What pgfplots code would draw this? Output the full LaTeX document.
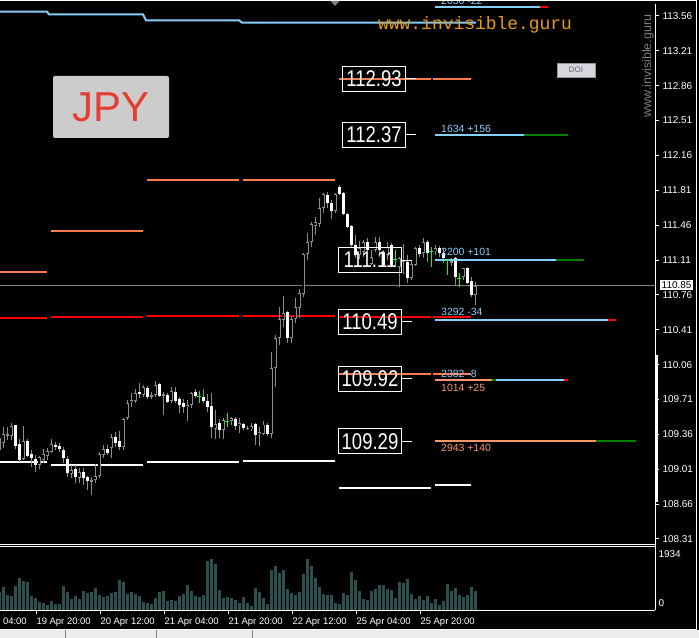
\documentclass[border=0pt]{standalone}
\usepackage{fontspec}
\setmainfont{Liberation Sans}
\newfontfamily\monofont{Liberation Mono}
\usepackage{graphicx}
\usepackage{pgfplots}
\usepackage{pgfplotstable}
\pgfplotsset{compat=1.18}
\definecolor{wickgrey}{RGB}{140,140,140}
\definecolor{dojigreen}{RGB}{0,255,0}
\definecolor{lblue}{RGB}{135,206,250}
\definecolor{lsalmon}{RGB}{250,150,110}
\definecolor{coralc}{RGB}{255,120,80}
\definecolor{dgreen}{RGB}{0,128,0}
\definecolor{volc}{RGB}{47,79,79}
\definecolor{pricegrey}{RGB}{128,132,140}
\definecolor{jpygrey}{RGB}{204,204,204}
\definecolor{jpyred}{RGB}{230,60,50}
\definecolor{webor}{RGB}{232,155,20}
\definecolor{tabgrey}{RGB}{236,236,236}

% hourly candles, i = bar index
\pgfplotstableread{
i o h l c
-1 109.203 109.337 109.186 109.320
0 109.276 109.437 109.219 109.360
1 109.343 109.430 109.303 109.360
2 109.343 109.477 109.303 109.444
5 109.109 109.444 109.102 109.296
9 109.052 109.143 109.009 109.129
10 109.102 109.209 109.069 109.159
11 109.143 109.219 109.102 109.193
12 109.186 109.310 109.169 109.260
17 108.958 109.052 108.918 109.002
19 108.918 109.019 108.868 108.985
22 108.891 108.935 108.751 108.901
23 108.901 109.059 108.868 108.942
24 108.942 109.186 108.918 109.163
25 109.153 109.253 109.119 109.209
27 109.219 109.363 109.119 109.337
30 109.229 109.527 109.203 109.511
31 109.521 109.705 109.504 109.678
32 109.681 109.778 109.638 109.705
33 109.698 109.812 109.671 109.772
35 109.755 109.855 109.738 109.839
37 109.745 109.788 109.711 109.752
38 109.755 109.896 109.738 109.855
40 109.752 109.788 109.554 109.765
42 109.698 109.839 109.671 109.799
46 109.631 109.705 109.497 109.655
47 109.655 109.788 109.621 109.772
53 109.414 109.604 109.310 109.464
55 109.404 109.521 109.313 109.504
57 109.494 109.537 109.454 109.527
59 109.454 109.521 109.370 109.477
61 109.413 109.443 109.403 109.426
62 109.410 109.476 109.396 109.446
64 109.359 109.436 109.245 109.386
65 109.369 109.493 109.353 109.460
67 109.363 110.183 109.319 110.029
68 110.022 110.357 109.838 110.323
69 110.330 110.641 110.256 110.514
70 110.507 110.748 110.440 110.574
72 110.330 110.541 110.273 110.514
73 110.514 110.725 110.480 110.635
74 110.624 110.819 110.534 110.775
75 110.775 111.183 110.742 111.170
76 111.170 111.378 111.110 111.294
77 111.294 111.495 111.244 111.471
78 111.454 111.538 111.361 111.488
79 111.478 111.729 111.444 111.629
80 111.629 111.779 111.578 111.769
83 111.605 111.779 111.578 111.772
89 111.160 111.300 111.120 111.230
90 111.193 111.311 111.143 111.294
92 111.076 111.210 111.060 111.143
93 111.210 111.344 111.193 111.294
96 111.160 111.294 111.110 111.244
99 111.043 111.143 110.842 111.126
100 111.093 111.277 110.976 111.110
102 110.926 111.110 110.909 111.070
103 111.060 111.244 111.050 111.227
105 111.183 111.327 111.126 111.294
108 111.204 111.260 111.160 111.227
112 111.080 111.130 111.050 111.100
115 110.942 111.036 110.909 111.026
118 110.758 110.892 110.658 110.849
}\bull

\pgfplotstableread{
i o h l c
3 109.454 109.454 109.219 109.243
4 109.263 109.310 109.086 109.102
6 109.293 109.310 109.136 109.146
7 109.159 109.203 109.035 109.119
8 109.112 109.153 108.985 109.052
13 109.253 109.286 109.203 109.229
14 109.246 109.276 109.186 109.209
15 109.203 109.229 109.069 109.119
16 109.109 109.143 108.935 108.968
18 109.009 109.052 108.875 108.928
20 108.979 109.019 108.851 108.918
21 108.928 108.942 108.801 108.895
26 109.219 109.253 109.153 109.176
28 109.337 109.387 109.236 109.276
29 109.293 109.397 109.203 109.236
34 109.785 109.872 109.721 109.772
36 109.822 109.845 109.711 109.731
39 109.862 109.872 109.738 109.748
41 109.755 109.778 109.671 109.688
43 109.788 109.839 109.671 109.698
44 109.715 109.738 109.578 109.655
45 109.678 109.721 109.578 109.638
48 109.788 109.815 109.721 109.748
50 109.731 109.812 109.671 109.698
51 109.695 109.765 109.588 109.631
52 109.645 109.772 109.327 109.430
54 109.470 109.511 109.327 109.404
58 109.514 109.537 109.404 109.447
60 109.460 109.470 109.403 109.420
63 109.460 109.476 109.252 109.353
66 109.453 109.470 109.343 109.359
71 110.584 110.598 110.273 110.330
81 111.762 111.796 111.629 111.685
82 111.679 111.712 111.521 111.605
84 111.846 111.863 111.762 111.772
85 111.789 111.796 111.562 111.572
86 111.568 111.578 111.428 111.444
87 111.451 111.461 111.244 111.260
88 111.260 111.361 111.126 111.160
91 111.294 111.327 111.193 111.210
94 111.294 111.337 111.143 111.210
95 111.193 111.210 111.043 111.060
97 111.260 111.277 111.043 111.060
101 111.093 111.160 110.875 110.926
104 111.227 111.260 111.143 111.170
106 111.287 111.311 111.093 111.177
109 111.227 111.250 111.143 111.183
110 111.183 111.227 111.076 111.126
113 111.126 111.143 110.859 110.942
116 111.033 111.043 110.869 110.882
117 110.902 110.942 110.742 110.758
}\bear

\pgfplotstableread{
i o h l c
49 109.742 109.795 109.671 109.742
56 109.487 109.578 109.430 109.487
98 111.120 111.210 111.043 111.120
107 111.193 111.244 111.043 111.193
111 111.110 111.126 110.959 111.110
114 110.926 110.976 110.842 110.926
}\doji

\pgfplotstableread{
i v
-1 634
0 810
1 528
2 493
3 845
4 1126
5 1021
6 986
7 493
8 422
9 282
10 246
11 176
12 317
13 211
14 211
15 845
16 634
17 387
18 493
19 387
20 669
21 598
22 634
23 774
24 528
25 458
26 493
27 598
28 634
29 1056
30 986
31 563
32 634
33 563
34 493
35 282
36 246
37 211
38 422
39 634
40 669
41 317
42 352
43 317
44 493
45 563
46 880
47 669
48 493
49 458
50 528
51 1725
52 1795
53 1619
54 704
55 422
56 458
57 422
58 352
59 246
60 458
61 246
62 141
63 774
64 634
65 422
66 211
67 1408
68 1549
69 1302
70 1408
71 739
72 598
73 528
74 634
75 1267
76 1795
77 1549
78 1126
79 810
80 563
81 528
82 528
83 246
84 211
85 598
86 528
87 1338
88 1056
89 669
90 387
91 352
92 669
93 739
94 880
95 880
96 739
97 704
98 422
99 986
100 950
101 1091
102 563
103 387
104 493
105 352
106 493
107 246
108 387
109 176
110 317
111 915
112 669
113 774
114 528
115 458
116 528
117 810
118 669
}\vol

% volume pane sits below the price pane in the same axis:
% base level 107.5956 (pane bottom), 1 volume unit = 0.00028514 price units
\def\vbase{107.5956}
\def\vk{0.00028514}

\begin{document}
\begin{tikzpicture}[x=1bp,y=1bp]
\fill[black] (0,0) rectangle (699,638);
\useasboundingbox (0,0) rectangle (699,638);

% tab bar at the bottom
\fill[tabgrey] (0,0) rectangle (699,7.5);
\draw[white, line width=1bp] (0,8) -- (696,8);
\foreach \xx in {65,156,252} \draw[gray] (\xx,0) -- (\xx,7.5);

\begin{axis}[
  at={(0,636.5)}, anchor=north west,
  scale only axis, width=655bp, height=606bp,
  xmin=-0.75, xmax=163, ymin=107.5956, ymax=113.68,
  axis x line*=bottom, axis y line*=right,
  axis line style={white, line width=1bp},
  ytick pos=right, xtick pos=bottom, tick align=outside, major tick length=4bp,
  tick style={white, line width=1bp},
  ytick={108.31,108.66,109.01,109.36,109.71,110.06,110.41,110.76,111.11,111.46,111.81,112.16,112.51,112.86,113.21,113.56},
  yticklabels={108.31,108.66,109.01,109.36,109.71,110.06,110.41,110.76,111.11,111.46,111.81,112.16,112.51,112.86,113.21,113.56},
  extra y ticks={107.661,108.158}, extra y tick labels={0,1934},
  extra y tick style={major tick length=0pt},
  yticklabel style={white, font=\fontsize{10}{10}\selectfont, anchor=west},
  xtick={8.25,24.25,40.25,56.25,72.25,88.25,104.25},
  xticklabels={19 Apr 20:00,20 Apr 12:00,21 Apr 04:00,21 Apr 20:00,22 Apr 12:00,25 Apr 04:00,25 Apr 20:00},
  xticklabel style={white, font=\fontsize{9.5}{10}\selectfont, anchor=north west, xshift=-3bp},
  unbounded coords=jump, clip=false,
]
% volume
\addplot[draw=none, error bars/.cd, y dir=both, y explicit, error mark=none, error bar style={draw=volc, line width=3bp}]
  table[x=i, y expr={\vbase+\thisrow{v}*\vk/2}, y error expr={\thisrow{v}*\vk/2}] {\vol};

% daily levels
\addplot[coralc, line width=1.8bp] coordinates {(-0.75,110.99) (11,110.99) (11.5,nan) (12,111.40) (35,111.40) (35.5,nan) (36,111.91) (59,111.91) (59.5,nan) (60,111.91) (83,111.91) (83.5,nan) (84,112.93) (107,112.93) (107.2,nan) (107.5,112.93) (117,112.93) (117.5,nan) (84,109.966) (107,109.966) (107.2,nan) (107.5,109.966) (117,109.966)};
\addplot[red, line width=1.8bp] coordinates {(-0.75,110.53) (11,110.53) (11.5,nan) (12,110.54) (35,110.54) (35.5,nan) (36,110.55) (59,110.55) (59.5,nan) (60,110.545) (83,110.545) (83.5,nan) (84,110.535) (107,110.535) (107.2,nan) (107.5,110.535) (117,110.535)};
\addplot[white, line width=1.8bp] coordinates {(-0.75,109.08) (11,109.08) (11.5,nan) (12,109.05) (35,109.05) (35.5,nan) (36,109.08) (59,109.08) (59.5,nan) (60,109.09) (83,109.09) (83.5,nan) (84,108.82) (107,108.82) (107.5,nan) (108,108.85) (117,108.85)};
% stepped line at the top
\addplot[lblue, line width=2bp] coordinates {(-0.75,113.603) (11,113.603) (11.5,113.577) (35,113.577) (35.75,113.517) (59,113.517) (59.75,113.493) (118.25,113.493)};
% current price
\addplot[pricegrey, line width=1bp] coordinates {(-0.75,110.85) (163,110.85)};

% candles: bull
\addplot[draw=none, error bars/.cd, y dir=both, y explicit, error mark=none, error bar style={draw=wickgrey, line width=1bp}]
  table[x=i, y expr={(\thisrow{h}+\thisrow{l})/2}, y error expr={(\thisrow{h}-\thisrow{l})/2}] {\bull};
\addplot[draw=none, error bars/.cd, y dir=both, y explicit, error mark=none, error bar style={draw=wickgrey, line width=3bp}]
  table[x=i, y expr={(\thisrow{o}+\thisrow{c})/2}, y error expr={max((\thisrow{c}-\thisrow{o})/2,0.006)}] {\bull};
\addplot[draw=none, error bars/.cd, y dir=both, y explicit, error mark=none, error bar style={draw=black, line width=1.2bp}]
  table[x=i, y expr={(\thisrow{o}+\thisrow{c})/2}, y error expr={max((\thisrow{c}-\thisrow{o})/2-0.01,0)}] {\bull};
% candles: bear
\addplot[draw=none, error bars/.cd, y dir=both, y explicit, error mark=none, error bar style={draw=wickgrey, line width=1bp}]
  table[x=i, y expr={(\thisrow{h}+\thisrow{l})/2}, y error expr={(\thisrow{h}-\thisrow{l})/2}] {\bear};
\addplot[draw=none, error bars/.cd, y dir=both, y explicit, error mark=none, error bar style={draw=white, line width=3bp}]
  table[x=i, y expr={(\thisrow{o}+\thisrow{c})/2}, y error expr={max((\thisrow{o}-\thisrow{c})/2,0.006)}] {\bear};
% candles: doji
\addplot[draw=none, error bars/.cd, y dir=both, y explicit, error mark=none, error bar style={draw=dojigreen, line width=1bp}]
  table[x=i, y expr={(\thisrow{h}+\thisrow{l})/2}, y error expr={(\thisrow{h}-\thisrow{l})/2}] {\doji};
\addplot[only marks, mark=-, mark size=2bp, mark options={draw=dojigreen, line width=1bp}] table[x=i, y=o] {\doji};

% order levels on the right
\addplot[lblue, line width=2bp] coordinates {(108,113.647) (134.25,113.647)};
\addplot[red, line width=2bp] coordinates {(134.25,113.647) (136.25,113.647)};
\addplot[lblue, line width=2bp] coordinates {(108,112.37) (130.25,112.37)};
\addplot[dgreen, line width=2bp] coordinates {(130.25,112.37) (141.25,112.37)};
\addplot[lblue, line width=2bp] coordinates {(108,111.115) (138.25,111.115)};
\addplot[dgreen, line width=2bp] coordinates {(138.25,111.115) (145.25,111.115)};
\addplot[lblue, line width=2bp] coordinates {(108,110.511) (151.25,110.511)};
\addplot[red, line width=2bp] coordinates {(151.25,110.511) (153.25,110.511)};
\addplot[lsalmon, line width=2bp] coordinates {(108,109.902) (122.25,109.902)};
\addplot[dgreen, line width=2bp] coordinates {(122.25,109.902) (123.25,109.902)};
\addplot[lblue, line width=2bp] coordinates {(123.25,109.902) (140.25,109.902)};
\addplot[red, line width=2bp] coordinates {(140.25,109.902) (141.25,109.902)};
\addplot[lsalmon, line width=2bp] coordinates {(108,109.296) (148.25,109.296)};
\addplot[dgreen, line width=2bp] coordinates {(148.25,109.296) (158.25,109.296)};

\tikzset{lbl/.style={anchor=base west, inner sep=0pt, font=\fontsize{10.5}{11}\selectfont},
  lvl/.style={draw=white, line width=1bp, text=white, minimum width=63bp, minimum height=25bp, inner sep=0pt, font=\fontsize{19}{19}\selectfont}}
\node[lbl, text=lblue, yshift=3bp] at (axis cs:109.5,113.647) {2036 -22};
\node[lbl, text=lblue, yshift=2.5bp] at (axis cs:109.5,112.37) {1634 +156};
\node[lbl, text=lblue, yshift=4.5bp] at (axis cs:109.5,111.115) {2200 +101};
\node[lbl, text=lblue, yshift=3.7bp] at (axis cs:109.5,110.511) {3292 -34};
\node[lbl, text=lblue, yshift=2.8bp] at (axis cs:109.5,109.902) {2382 -8};
\node[lbl, text=lsalmon, yshift=-11bp] at (axis cs:109.5,109.902) {1014 +25};
\node[lbl, text=lsalmon, yshift=-11bp] at (axis cs:109.5,109.296) {2943 +140};

\node[lvl] at (axis cs:92.75,112.93) {\scalebox{0.98}[1.2]{112.93}};
\node[lvl] at (axis cs:92.75,112.37) {\scalebox{0.98}[1.2]{112.37}};
\node[lvl] at (axis cs:91.75,111.11) {\scalebox{0.98}[1.2]{111.11}};
\node[lvl] at (axis cs:91.75,110.49) {\scalebox{0.98}[1.2]{110.49}};
\node[lvl] at (axis cs:91.75,109.92) {\scalebox{0.98}[1.2]{109.92}};
\node[lvl] at (axis cs:91.75,109.29) {\scalebox{0.98}[1.2]{109.29}};
\draw[white, line width=1bp] (axis cs:100.75,112.93) -- (axis cs:103.25,112.93);
\draw[white, line width=1bp] (axis cs:100.75,112.37) -- (axis cs:103.25,112.37);
\draw[white, line width=1bp] (axis cs:99.75,111.11) -- (axis cs:102.25,111.11);
\draw[white, line width=1bp] (axis cs:99.75,110.49) -- (axis cs:102.25,110.49);
\draw[white, line width=1bp] (axis cs:99.75,109.92) -- (axis cs:102.25,109.92);
\draw[white, line width=1bp] (axis cs:99.75,109.29) -- (axis cs:102.25,109.29);
% label of the tick just left of the visible range
\node[white, font=\fontsize{9.5}{10}\selectfont, anchor=north west, xshift=-3bp, yshift=-4bp] at (axis cs:-7.75,107.5956) {19 Apr 04:00};
\end{axis}

% frame lines
\draw[white, line width=1bp] (0,637.5) -- (696,637.5);
\draw[white, line width=1bp] (696,637.5) -- (696,8);
\draw[white, line width=1bp] (0,93.5) -- (656,93.5);
\draw[white, line width=1bp] (0,91.3) -- (656,91.3);
\fill[white] (655,136) rectangle (658,283);

% current price tag
\node[fill=white, text=black, anchor=west, inner sep=1.5bp, font=\fontsize{10}{10}\selectfont] at (660,353) {110.85};

% decorations
\fill[gray] (330.5,637) -- (339.5,637) -- (335,632);
\node[fill=jpygrey, rounded corners=2bp, minimum width=116bp, minimum height=62bp, text=jpyred, font=\fontsize{42}{42}\selectfont, inner sep=0pt] at (111,531) {JPY};
\node[fill={rgb,255:red,214;green,214;blue,220}, draw={rgb,255:red,150;green,150;blue,150}, minimum width=38bp, minimum height=14bp, inner sep=0pt, text={rgb,255:red,100;green,100;blue,110}, font=\fontsize{8}{8}\selectfont] at (576,568) {DOI};
\node[anchor=west, inner sep=0pt, text=webor, font=\monofont\fontsize{18}{18}\selectfont] at (378,613) {www.invisible.guru};
\node[rotate=90, inner sep=0pt, text=gray, font=\fontsize{12.5}{13}\selectfont] at (648,572) {www.invisible.guru};
\end{tikzpicture}
\end{document}
